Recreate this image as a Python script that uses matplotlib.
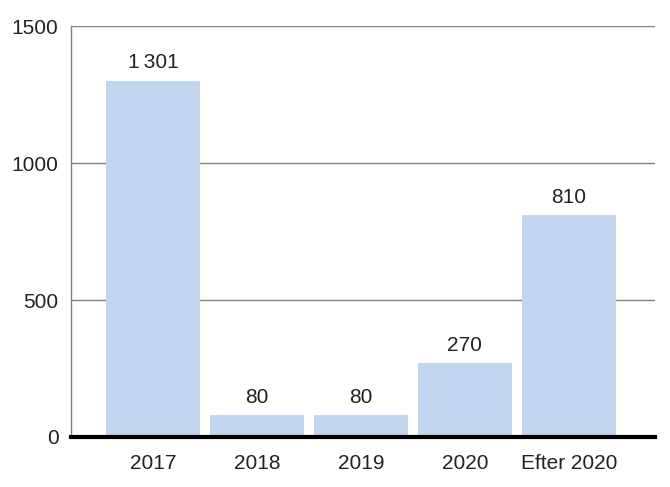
import matplotlib
matplotlib.use('Agg')
import matplotlib.pyplot as plt

plt.rcParams['font.family'] = ['Liberation Sans', 'DejaVu Sans']

# data
categories = ['2017', '2018', '2019', '2020', 'Efter 2020']
values = [1301, 80, 80, 270, 810]
y_ticks = [0, 500, 1000, 1500]


def fmt(v):
    # thousands separated by a thin space
    return f'{v:,}'.replace(',', '\u2009')


fig = plt.figure(figsize=(6.7, 4.87), dpi=100)
ax = fig.add_axes([71 / 670, 1 - 437 / 487, 584 / 670, 411 / 487])

x = range(len(categories))
ax.bar(x, values, width=0.9, color='#c2d5ee', zorder=2)

for xi, v in zip(x, values):
    ax.text(xi, v + 30, fmt(v), ha='center', va='bottom', fontsize=15, color='#222222')

ax.set_xlim(-0.79, 4.83)
ax.set_ylim(0, 1500)
ax.set_yticks(y_ticks)
ax.set_yticklabels([str(t) for t in y_ticks])
ax.set_xticks(list(x))
ax.set_xticklabels(categories)
ax.tick_params(axis='both', length=0, labelsize=15, colors='#222222')
ax.tick_params(axis='x', pad=12)
ax.tick_params(axis='y', pad=9)

ax.yaxis.grid(True, color='#808080', linewidth=1, zorder=0)
for s in ['top', 'right', 'bottom']:
    ax.spines[s].set_visible(False)
ax.spines['left'].set_color('#808080')
ax.spines['left'].set_linewidth(1)
ax.axhline(0, color='black', linewidth=3, zorder=3, clip_on=False)

fig.savefig('out.png', dpi=100)
